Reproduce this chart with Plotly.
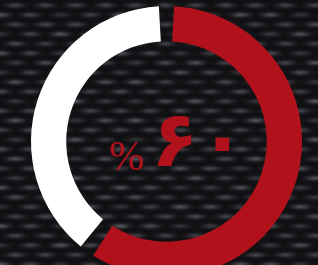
import base64
import struct
import zlib

import numpy as np
import plotly.graph_objects as go

# ---- data ----
labels = ["تکمیل شده", "باقی مانده"]
values = [60, 40]
center_label = "۶۰"
percent_sign = "%"

RED = "#B0111A"
WHITE = "#FFFFFF"
W, H = 318, 290  # page shows the top 265 px


# ---- decorative woven background texture (deterministic) ----
def make_texture(w, h):
    yy, xx = np.mgrid[0:h, 0:w].astype(float)
    row_h = 9.6
    col_w = 30.0
    r = np.floor(yy / row_h)
    cy = (r + 0.5) * row_h
    off = np.where(r % 2 == 0, 0.0, col_w / 2)
    cx = np.floor((xx - off) / col_w) * col_w + off + col_w / 2
    dx = (xx - cx) / 8.5
    dy = (yy - cy) / 2.4
    blob = np.exp(-(dx ** 2 + dy ** 2))
    shade = 0.75 + 0.25 * np.sin(r * 1.7) * np.cos((cx) * 0.05)
    base = np.array([16, 16, 19], float)
    hi = np.array([80, 80, 88], float)
    img = base + (hi - base) * (blob * shade)[..., None]
    return np.clip(img, 0, 255).astype(np.uint8)


def to_png(arr):
    h, w, _ = arr.shape
    raw = b"".join(b"\x00" + arr[y].tobytes() for y in range(h))

    def chunk(t, d):
        return struct.pack(">I", len(d)) + t + d + struct.pack(">I", zlib.crc32(t + d) & 0xFFFFFFFF)

    return (b"\x89PNG\r\n\x1a\n" + chunk(b"IHDR", struct.pack(">IIBBBBB", w, h, 8, 2, 0, 0, 0))
            + chunk(b"IDAT", zlib.compress(raw, 9)) + chunk(b"IEND", b""))


tex = "data:image/png;base64," + base64.b64encode(to_png(make_texture(W, H))).decode()

# ---- pie with transparent gaps between the two slices ----
gap = 1.8
pie_vals = [gap / 2, values[0] - gap, gap, values[1] - gap, gap / 2]
pie_cols = ["rgba(0,0,0,0)", RED, "rgba(0,0,0,0)", WHITE, "rgba(0,0,0,0)"]
pie_labels = ["g1", labels[0], "g2", labels[1], "g3"]

fig = go.Figure(go.Pie(
    values=pie_vals,
    labels=pie_labels,
    marker=dict(colors=pie_cols, line=dict(width=0)),
    hole=0.74,
    sort=False,
    direction="clockwise",
    rotation=0,
    textinfo="none",
    hoverinfo="skip",
    showlegend=False,
    domain=dict(x=[31 / W, 302 / W], y=[13 / H, 284 / H]),
))

fig.add_annotation(text=center_label, x=198 / W, y=1 - 139 / H, xref="paper", yref="paper",
                   showarrow=False, xanchor="center", yanchor="middle",
                   font=dict(family="DejaVu Sans", size=78, color=RED, weight="bold"))
fig.add_annotation(text=percent_sign, x=126 / W, y=1 - 156 / H, xref="paper", yref="paper",
                   showarrow=False, xanchor="center", yanchor="middle",
                   font=dict(family="Liberation Serif", size=42, color=RED))

fig.update_layout(
    width=W, height=H,
    margin=dict(l=0, r=0, t=0, b=0),
    paper_bgcolor="#121214",
    plot_bgcolor="#121214",
    images=[dict(source=tex, xref="paper", yref="paper", x=0, y=1, sizex=1, sizey=1,
                 sizing="stretch", xanchor="left", yanchor="top", layer="below")],
)

fig.write_html("out.html", config=dict(displayModeBar=False),
               post_script="document.body.style.margin='0';document.body.style.overflow='hidden';"
                           "document.documentElement.style.overflow='hidden';")
